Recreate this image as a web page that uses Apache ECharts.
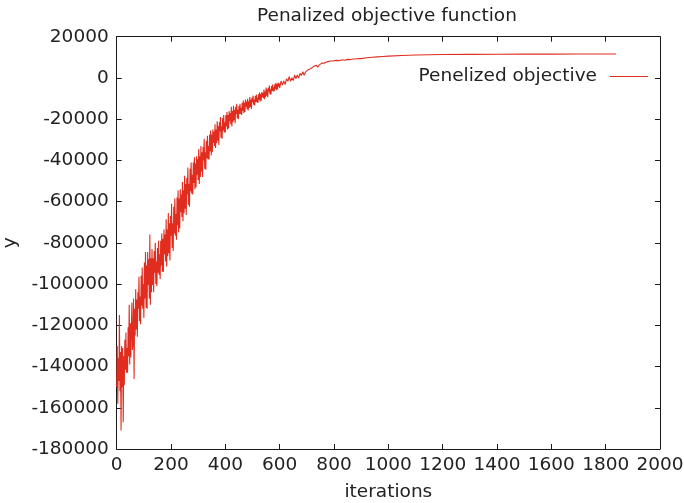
<!DOCTYPE html>
<html>
<head>
<meta charset="utf-8">
<script src="https://cdn.jsdelivr.net/npm/echarts@6/dist/echarts.min.js"></script>
<style>html,body{margin:0;padding:0;background:#fff}#c{width:684px;height:503px}</style>
</head>
<body>
<div id="c"></div>
<script>
const titleText = 'Penalized objective function';
const seriesName = 'Penelized objective';
const xName = 'iterations';
const yName = 'y';

// Objective read every 2 iterations, iterations 0..600
const earlyStep = 2;
const earlyObjective = [
  -150000,-130000,-158000,-136000,-147000,
  -115000,-152000,-133000,-171000,-130000,
  -150000,-131000,-167000,-135000,-149000,
  -127000,-141500,-123500,-143000,-131000,
  -143000,-121000,-135000,-110000,-139000,
  -119000,-135500,-121000,-109000,-132000,
  -127500,-107000,-146000,-112000,-125000,
  -102500,-122000,-107500,-125500,-104000,
  -112000,-96500,-118000,-106000,-119500,
  -96000,-110500,-92000,-112000,-100000,
  -116500,-89500,-107000,-84500,-111500,
  -91000,-112000,-84500,-100500,-88000,
  -107000,-76000,-110000,-87500,-104000,
  -83000,-100500,-87500,-104000,-84000,
  -94500,-80000,-100000,-89000,-101000,
  -82500,-94500,-79000,-95500,-85500,
  -97500,-79000,-91000,-75500,-94000,
  -78000,-94000,-73500,-85500,-76000,
  -89000,-68500,-91500,-73500,-86500,
  -65500,-85000,-70500,-88500,-67000,
  -76500,-61000,-82500,-70500,-84000,
  -62500,-75500,-58500,-76500,-66000,
  -78500,-58000,-71500,-54500,-75000,
  -58500,-73000,-54000,-65000,-56500,
  -67500,-50500,-69500,-54500,-65500,
  -47500,-63500,-51500,-66500,-48500,
  -56500,-43500,-61500,-51500,-62500,
  -44000,-55000,-41000,-56000,-47000,
  -56500,-41000,-51000,-38500,-54000,
  -41500,-53000,-38000,-47000,-39500,
  -49500,-34500,-51500,-38000,-48000,
  -33000,-45500,-36000,-48000,-33500,
  -40000,-29500,-44000,-36000,-44500,
  -30500,-39000,-28000,-39500,-33000,
  -39500,-27500,-35500,-25500,-37500,
  -27500,-36000,-25000,-31500,-26000,
  -33000,-22500,-34000,-25000,-31500,
  -21000,-30500,-23500,-32500,-21500,
  -26000,-19000,-29000,-23500,-29500,
  -19500,-25500,-18000,-26500,-21500,
  -26500,-18000,-23500,-16500,-25000,
  -18000,-24500,-16000,-21000,-17000,
  -22500,-14000,-23500,-16000,-21500,
  -13500,-20500,-15500,-22000,-14000,
  -17500,-12500,-19500,-15500,-20000,
  -13500,-17500,-12500,-17500,-14500,
  -18000,-12000,-16000,-11000,-17000,
  -12000,-16500,-10500,-14000,-11500,
  -15200,-10100,-15800,-11300,-14600,
  -9300,-14100,-10500,-15000,-9600,
  -11800,-8500,-13000,-10500,-13300,
  -8800,-11600,-8100,-11800,-9600,
  -12100,-7900,-10600,-7100,-11400,
  -7800,-11100,-6800,-9300,-7300,
  -9800,-5600,-10300,-6600,-9300,
  -4600,-8600,-5600,-9300,-4800,
  -6700,-3700,-7800,-5500,-8100,
  -3900,-6300,-3200,-6500,-4500,
  -6500,-3100,-5300,-2500,-5900,
  -3000,-5600,-2200,-4200,-2600,
  -4800
];

// Later iterations, read at explicit positions
const lateIterations = [
  605,610,615,620,625,630,635,640,645,650,
  655,660,665,670,675,680,685,690,695,700,
  705,710,715,720,725,730,735,740,745,750,
  755,760,765,770,775,780,785,790,795,800,
  810,820,830,840,850,860,870,880,890,900,
  920,940,960,980,1000,1050,1100,1150,1200,1300,
  1400,1500,1600,1700,1838
];
const lateObjective = [
  -1500,-3500,-1400,-3200,-400,-1600,600,-1600,100,-1300,
  1300,-300,1400,-100,2200,1200,3000,1300,2800,2400,
  4000,3300,4600,3800,5500,5000,6200,5200,6200,5700,
  7200,6500,7200,6800,7800,7500,8200,7600,8200,7900,
  8500,8300,8800,8600,9000,8900,9200,9150,9400,9350,
  9800,10000,10200,10400,10600,10900,11100,11250,11350,11450,
  11500,11550,11550,11600,11600
];

const xMin = 0, xMax = 2000, xStep = 200;
const yMin = -180000, yMax = 20000, yStep = 20000;

const data = earlyObjective.map((v, i) => [i * earlyStep, v])
  .concat(lateIterations.map((x, i) => [x, lateObjective[i]]));

const font = 'DejaVu Sans';
const fs = 18.5;
const txt = '#222';
const lineColor = '#e02d1f';

const chart = echarts.init(document.getElementById('c'), null, {renderer: 'canvas'});
const axisCommon = {
  axisLine: {show: true, onZero: false, lineStyle: {color: '#1a1a1a', width: 1}},
  axisTick: {show: true, inside: true, length: 5, lineStyle: {color: '#1a1a1a'}},
  splitLine: {show: false}
};
const fmt = v => String(v);
chart.setOption({
  animation: false,
  backgroundColor: '#fff',
  title: {
    text: titleText, left: 252, top: 2,
    textStyle: {fontFamily: font, fontSize: fs, fontWeight: 'normal', color: txt}
  },
  legend: {
    data: [{name: seriesName, icon: 'rect'}],
    right: 36, top: 67, align: 'right', padding: 0,
    itemWidth: 38, itemHeight: 1.2,
    textStyle: {fontFamily: font, fontSize: fs, color: txt, padding: [0, 8, 0, 0]}
  },
  grid: {left: 116.7, right: 24, top: 36.7, bottom: 54, containLabel: false, outerBoundsMode: 'none'},
  xAxis: [
    Object.assign({
      type: 'value', min: xMin, max: xMax, interval: xStep, position: 'bottom',
      name: xName, nameLocation: 'middle', nameGap: 34,
      nameTextStyle: {fontFamily: font, fontSize: fs, color: txt},
      axisLabel: {fontFamily: font, fontSize: fs, color: txt, margin: 7, formatter: fmt}
    }, axisCommon),
    Object.assign({
      type: 'value', min: xMin, max: xMax, interval: xStep, position: 'top',
      axisLabel: {show: false}
    }, axisCommon)
  ],
  yAxis: [
    Object.assign({
      type: 'value', min: yMin, max: yMax, interval: yStep, position: 'left',
      name: yName, nameLocation: 'middle', nameGap: 97,
      nameTextStyle: {fontFamily: font, fontSize: fs, color: txt},
      axisLabel: {fontFamily: font, fontSize: fs, color: txt, margin: 8, formatter: fmt}
    }, axisCommon),
    Object.assign({
      type: 'value', min: yMin, max: yMax, interval: yStep, position: 'right',
      axisLabel: {show: false}
    }, axisCommon)
  ],
  series: [{
    name: seriesName, type: 'line', data: data,
    xAxisIndex: 0, yAxisIndex: 0,
    showSymbol: false, symbol: 'none', sampling: null,
    lineStyle: {color: lineColor, width: 1.1},
    itemStyle: {color: lineColor}
  }]
});
</script>
</body>
</html>
